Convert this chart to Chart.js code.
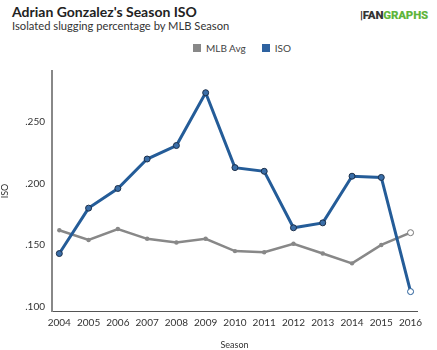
<!DOCTYPE html>
<html>
<head>
<meta charset="utf-8">
<script src="https://cdn.jsdelivr.net/npm/chart.js@4"></script>
<style>
  html, body { margin: 0; padding: 0; background: #fff; }
  body { width: 437px; height: 350px; position: relative; overflow: hidden; font-family: Lato, sans-serif; }
  #title { position: absolute; left: 12px; top: 3px; font-size: 14px; font-weight: 700; color: #222; }
  #subtitle { position: absolute; left: 12px; top: 19px; font-size: 11.2px; color: #333; }
  #logo { position: absolute; left: 360px; top: 8px; font-size: 11.5px; font-weight: 900; font-family: Roboto, sans-serif; letter-spacing: -0.2px; }
  #logo .bar { color: #333; }
  #logo .fan { color: #333; }
  #logo .graphs { color: #5fb53b; }
  #legend { position: absolute; top: 42px; left: 193px; font-size: 10px; color: #444; display: flex; align-items: center; }
  #legend .box { width: 8px; height: 8px; display: inline-block; margin-right: 5px; }
  #legend .item { display: flex; align-items: center; margin-right: 16px; }
  canvas { position: absolute; left: 0; top: 0; }
</style>
</head>
<body>
<div id="title">Adrian Gonzalez's Season ISO</div>
<div id="subtitle">Isolated slugging percentage by MLB Season</div>
<div id="logo"><span class="bar">|</span><span class="fan">FAN</span><span class="graphs">GRAPHS</span></div>
<div id="legend">
  <span class="item"><span class="box" style="background:#888"></span>MLB Avg</span>
  <span class="item"><span class="box" style="background:#2e62a0"></span>ISO</span>
</div>
<canvas id="chart" width="437" height="350"></canvas>
<script>
// ── Data ───────────────────────────────────────────────
const seasons = [2004, 2005, 2006, 2007, 2008, 2009, 2010, 2011, 2012, 2013, 2014, 2015, 2016];
const isoValues = [0.143, 0.180, 0.196, 0.220, 0.231, 0.274, 0.213, 0.210, 0.164, 0.168, 0.206, 0.205, 0.112];
const mlbAvgValues = [0.162, 0.154, 0.163, 0.155, 0.152, 0.155, 0.145, 0.144, 0.151, 0.143, 0.135, 0.150, 0.160];
const yTicks = [0.100, 0.150, 0.200, 0.250];

const toPoints = vals => seasons.map((s, i) => ({ x: s, y: vals[i] }));
const last = seasons.length - 1;

// hollow marker on the final season
const fillFor = (color) => seasons.map((s, i) => i === last ? '#fff' : color);

const ctx = document.getElementById('chart').getContext('2d');
new Chart(ctx, {
  type: 'line',
  data: {
    datasets: [
      {
        label: 'ISO',
        data: toPoints(isoValues),
        borderColor: '#245c98',
        borderWidth: 3,
        pointRadius: 3,
        pointBorderWidth: 1,
        pointBorderColor: seasons.map((s, i) => i === last ? '#245c98' : '#1b2f4a'),
        pointBackgroundColor: fillFor('#3a6ea8'),
        tension: 0,
        order: 0
      },
      {
        label: 'MLB Avg',
        data: toPoints(mlbAvgValues),
        borderColor: '#888',
        borderWidth: 2.5,
        pointRadius: seasons.map((s, i) => i === last ? 3 : 2.2),
        pointBorderWidth: seasons.map((s, i) => i === last ? 1 : 0),
        pointBorderColor: '#777',
        pointBackgroundColor: fillFor('#888'),
        tension: 0,
        order: 1
      }
    ]
  },
  options: {
    responsive: false,
    animation: false,
    layout: { padding: { top: 71, right: 20, left: 0, bottom: 0 } },
    plugins: { legend: { display: false }, tooltip: { enabled: false } },
    scales: {
      x: {
        type: 'linear',
        min: 2003.75,
        max: 2016.22,
        afterBuildTicks: axis => { axis.ticks = seasons.map(v => ({ value: v })); },
        afterFit: axis => { axis.height = 39; },
        ticks: {
          color: '#333',
          font: { family: 'Lato', size: 10 },
          padding: 2,
          maxRotation: 0,
          callback: v => String(v)
        },
        grid: { display: false, drawTicks: true, tickLength: 4, tickColor: '#555' },
        border: { display: true, color: '#555', width: 1 },
        title: {
          display: true,
          text: 'Season',
          color: '#333',
          font: { family: 'Lato', size: 9 },
          padding: { top: 4, bottom: 0 }
        }
      },
      y: {
        min: 0.0962,
        max: 0.2917,
        afterBuildTicks: axis => { axis.ticks = yTicks.map(v => ({ value: v })); },
        afterFit: axis => { axis.width = 52; },
        ticks: {
          color: '#333',
          font: { family: 'Lato', size: 10 },
          padding: 3,
          callback: v => v.toFixed(3).replace(/^0/, '')
        },
        grid: { display: false, drawTicks: true, tickLength: 4, tickColor: '#777' },
        border: { display: true, color: '#888', width: 2 },
        title: {
          display: true,
          text: 'ISO',
          color: '#333',
          font: { family: 'Lato', size: 9 },
          padding: { top: 0, bottom: 4 }
        }
      }
    }
  }
});
</script>
</body>
</html>
